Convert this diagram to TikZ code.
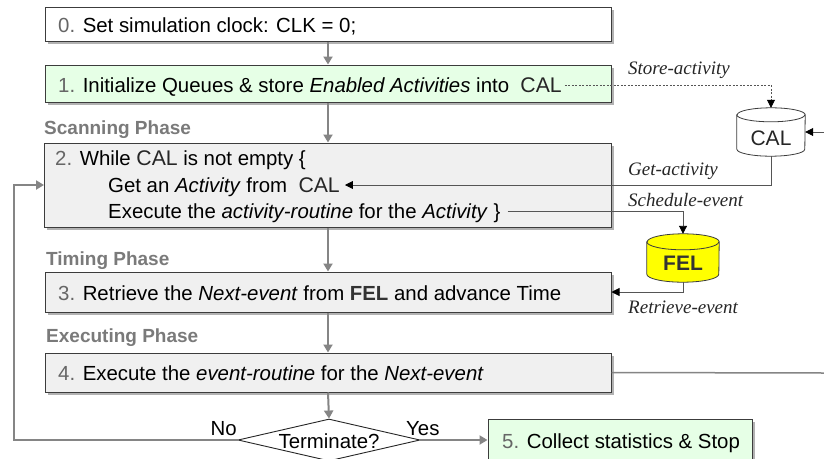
\documentclass[tikz,border=0pt]{standalone}
\usepackage{fontspec}
\setmainfont{Liberation Sans}
\newfontfamily\labelserif{Liberation Serif}
\usetikzlibrary{arrows.meta,shadows,shapes.geometric}
\definecolor{boxgreen}{HTML}{E6FFE6}
\definecolor{boxgray}{HTML}{F0F0F0}
\definecolor{flowgray}{HTML}{858585}
\definecolor{edgegray}{HTML}{3C3C3C}
\definecolor{numgray}{HTML}{666666}
\definecolor{linkgray}{HTML}{555555}
\definecolor{phasegray}{HTML}{7A7A7A}
\definecolor{felyellow}{HTML}{FFFF00}
\newcommand{\stepnum}[1]{\textcolor{numgray}{#1}}
\newcommand{\keyword}[1]{{\fontsize{21.2}{24}\selectfont\textcolor{black!85}{#1}}}
\begin{document}
\begin{tikzpicture}[x=1pt,y=-1pt,
  box/.style={rectangle, draw=edgegray, line width=1pt, inner sep=0pt,
     drop shadow={shadow xshift=2.5pt, shadow yshift=-2.5pt, opacity=0.3, fill=black}},
  txt/.style={inner sep=0pt, anchor=west, font=\fontsize{20.4}{24}\selectfont, text height=15pt, text depth=1pt},
  phase/.style={inner sep=0pt, anchor=west, font=\bfseries\fontsize{19}{22}\selectfont, text=phasegray, text height=14pt, text depth=0pt},
  lbl/.style={inner sep=0pt, anchor=west, font=\labelserif\itshape\fontsize{19}{22}\selectfont, text=black!85, text height=13pt, text depth=0pt},
  flow/.style={draw=flowgray, line width=2pt, -{Triangle[width=9pt,length=8pt]}},
  link/.style={draw=linkgray, line width=0.9pt, -{Triangle[width=8pt,length=8pt,color=black]}},
  cylline/.style={draw=edgegray, line width=0.8pt}
]
\clip (0,0) rectangle (824,458);
\fill[white] (0,0) rectangle (824,458);

% boxes
\node[box, fill=white, minimum width=566pt, minimum height=34pt] (b0) at (328,24) {};
\node[txt] (t0) at (58,25) {\stepnum{0.} Set simulation clock: CLK = 0;};

\node[box, fill=boxgreen, minimum width=566pt, minimum height=37pt] (b1) at (328,83.5) {};
\node[txt] (t1) at (58,85) {\stepnum{1.} Initialize Queues \& store \textit{Enabled Activities} into \ \keyword{CAL}};

\node[phase] (p1) at (44,127) {Scanning Phase};

\node[box, fill=boxgray, minimum width=567pt, minimum height=84pt] (b2) at (328,185) {};
\node[txt] (t2a) at (55,158) {\stepnum{2.} While \keyword{CAL} is not empty \{};
\node[txt] (t2b) at (108,185) {Get an \textit{Activity} from \ \keyword{CAL}};
\node[txt] (t2c) at (108,211) {Execute the \textit{activity-routine} for the \textit{Activity} \}};

\node[phase] (p2) at (46,258) {Timing Phase};
\node[box, fill=boxgray, minimum width=566pt, minimum height=40pt] (b3) at (328,292) {};
\node[txt] (t3) at (58,293) {\stepnum{3.} Retrieve the \textit{Next-event} from {\bfseries\color{black!80}FEL} and advance Time};

\node[phase] (p3) at (46,335) {Executing Phase};
\node[box, fill=boxgray, minimum width=566pt, minimum height=39pt] (b4) at (328,372.5) {};
\node[txt] (t4) at (58,373) {\stepnum{4.} Execute the \textit{event-routine} for the \textit{Next-event}};

\node[diamond, draw=black!85, line width=0.9pt, fill=white, minimum width=182pt, minimum height=42pt, inner sep=0pt] (dia) at (329,440) {};
\node[txt, anchor=center] (tdia) at (329,441) {Terminate?};

\node[box, fill=boxgreen, minimum width=264pt, minimum height=42pt] (b5) at (620,440) {};
\node[txt] (t5) at (502,441) {\stepnum{5.} Collect statistics \& Stop};

\node[txt, anchor=east] (no) at (237,428) {No};
\node[txt] (yes) at (406,428) {Yes};

% CAL cylinder
\node[minimum width=68pt, minimum height=48pt, inner sep=0pt] (cal) at (771,132) {};
\draw[cylline, fill=white] ([yshift=-7pt]cal.north west) -- ([yshift=7pt]cal.south west)
  arc[start angle=180, end angle=360, x radius=34pt, y radius=7pt]
  -- ([yshift=-7pt]cal.north east)
  arc[start angle=0, end angle=180, x radius=34pt, y radius=7pt] -- cycle;
\draw[cylline] ([yshift=-7pt]cal.north west) arc[start angle=180, end angle=360, x radius=34pt, y radius=7pt];
\node[font=\fontsize{21}{24}\selectfont, text=black!85, inner sep=0pt] (caltext) at ([yshift=-6pt]cal.center) {CAL};

% FEL cylinder
\node[minimum width=72pt, minimum height=48pt, inner sep=0pt] (fel) at (683,258) {};
\draw[cylline, fill=felyellow] ([yshift=-8pt]fel.north west) -- ([yshift=8pt]fel.south west)
  arc[start angle=180, end angle=360, x radius=36pt, y radius=8pt]
  -- ([yshift=-8pt]fel.north east)
  arc[start angle=0, end angle=180, x radius=36pt, y radius=8pt] -- cycle;
\draw[cylline] ([yshift=-8pt]fel.north west) arc[start angle=180, end angle=360, x radius=36pt, y radius=8pt];
\node[font=\bfseries\fontsize{21}{24}\selectfont, text=black!80, inner sep=0pt] (feltext) at ([yshift=-5pt]fel.center) {FEL};

% main flow
\draw[flow] (b0.south) -- (b1.north);
\draw[flow] (b1.south) -- (b2.north);
\draw[flow] (b2.south) -- (b3.north);
\draw[flow] (b3.south) -- (b4.north);
\draw[flow] (b4.south) -- (dia.north);
\draw[flow] (dia.east) -- (b5.west);
\coordinate (loopc) at (14,440);
\draw[flow] (dia.west) -- (loopc) |- (b2.west);
\coordinate (exitr) at (824,373);
\draw[draw=flowgray, line width=1.5pt] (b4.east) -- (exitr);

% links
\draw[link, dash pattern=on 2pt off 1.5pt, line width=0.7pt] ([xshift=3pt]t1.east) -| (cal.north);
\draw[link] (cal.south) |- ([xshift=5pt]t2b.east);
\coordinate (calin) at (824,132);
\draw[link] (calin) -- (cal.east);
\draw[link] ([xshift=7pt]t2c.east) -| (fel.north);
\draw[link] (fel.south) |- (b3.east);

% labels
\node[lbl] (lstore) at (628,68) {Store-activity};
\node[lbl] (lget) at (628,169) {Get-activity};
\node[lbl] (lsched) at (628,200) {Schedule-event};
\node[lbl] (lretr) at (628,307) {Retrieve-event};
\end{tikzpicture}
\end{document}
